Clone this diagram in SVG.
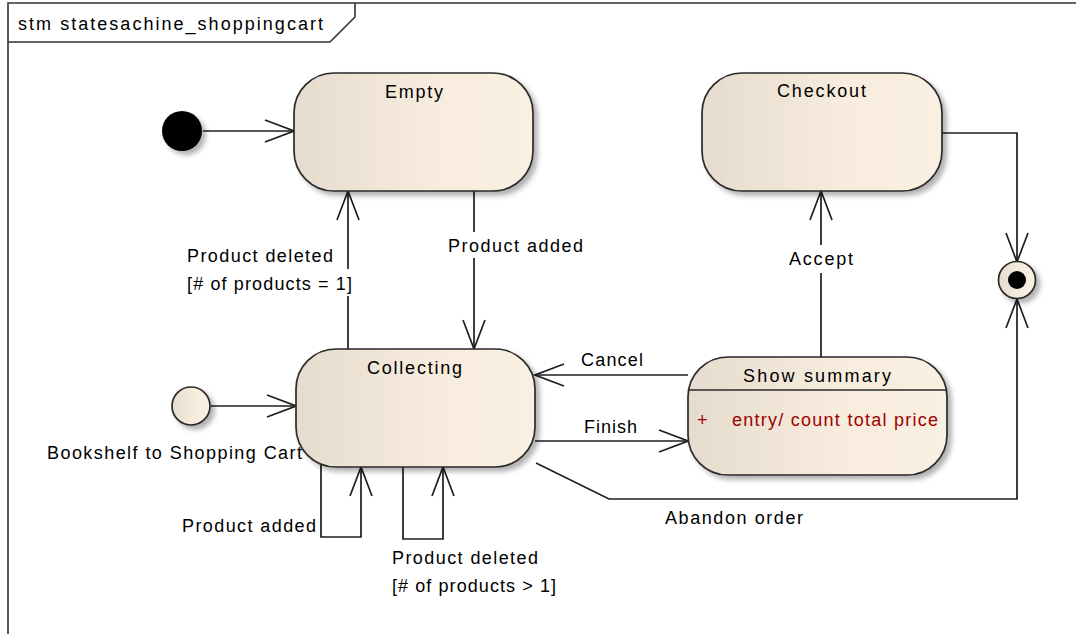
<svg xmlns="http://www.w3.org/2000/svg" width="1076" height="634" viewBox="0 0 1076 634">
<style>
.t{font-family:"Liberation Sans",Arial,sans-serif;font-size:18px;fill:#000;}
.red{fill:#a00000;}
.node{fill:url(#g);stroke:#2a2a2a;stroke-width:1.7;filter:url(#sh);}
.edge{fill:none;stroke:#1e1e1e;stroke-width:1.7;}
.frame{fill:none;stroke:#333;stroke-width:1.6;}
</style>
<defs>
<linearGradient id="g" x1="0" y1="0" x2="1" y2="0">
<stop offset="0" stop-color="#e6dccd"/>
<stop offset="0.6" stop-color="#f7ecdd"/>
<stop offset="1" stop-color="#faf0e2"/>
</linearGradient>
<filter id="sh" x="-20%" y="-20%" width="150%" height="150%">
<feDropShadow dx="4" dy="4" stdDeviation="2.5" flood-color="#000" flood-opacity="0.3"/>
</filter>
<marker id="a" markerUnits="userSpaceOnUse" viewBox="-31 -13 33 26" markerWidth="33" markerHeight="26" refX="0" refY="0" orient="auto">
<path d="M-29,-11 L0,0 L-29,11" fill="none" stroke="#1e1e1e" stroke-width="1.7"/>
</marker>
</defs>
<rect width="1076" height="634" fill="#fff"/>
<g id="frame">
<path class="frame" d="M8,634 L8,3 L1076,3"/>
<path class="frame" d="M8,42 L330,42 L355,17 L355,3"/>
<text class="t" x="18" y="30" textLength="305">stm statesachine_shoppingcart</text>
</g>
<g id="connectors">
<path class="edge" d="M203,131 L294,131" marker-end="url(#a)"/>
<path class="edge" d="M211,406 L296,406" marker-end="url(#a)"/>
<path class="edge" d="M474,191 L474,232 M474,258 L474,349" marker-end="url(#a)"/>
<path class="edge" d="M348,349 L348,296 M348,269 L348,191" marker-end="url(#a)"/>
<path class="edge" d="M821,357 L821,273 M821,245 L821,191" marker-end="url(#a)"/>
<path class="edge" d="M942,133 L1017,133 L1017,262" marker-end="url(#a)"/>
<path class="edge" d="M536,463 L609,499 L1017,499 L1017,299" marker-end="url(#a)"/>
<path class="edge" d="M688,375 L535,375" marker-end="url(#a)"/>
<path class="edge" d="M535,441 L688,441" marker-end="url(#a)"/>
<path class="edge" d="M321,463 L321,537 L361,537 L361,467" marker-end="url(#a)"/>
<path class="edge" d="M403,467 L403,539 L443,539 L443,467" marker-end="url(#a)"/>
<text class="t" x="448" y="252" textLength="135">Product added</text>
<text class="t" x="187" y="262" textLength="146">Product deleted</text>
<text class="t" x="187" y="290" textLength="165">[# of products = 1]</text>
<text class="t" x="789" y="265" textLength="64">Accept</text>
<text class="t" x="581" y="366" textLength="62">Cancel</text>
<text class="t" x="584" y="433" textLength="53">Finish</text>
<text class="t" x="665" y="524" textLength="138">Abandon order</text>
<text class="t" x="182" y="532" textLength="134">Product added</text>
<text class="t" x="392" y="564" textLength="146">Product deleted</text>
<text class="t" x="392" y="592" textLength="164">[# of products &gt; 1]</text>
</g>
<g id="initial">
<circle cx="182" cy="131" r="20" fill="#000" filter="url(#sh)"/>
</g>
<g id="entry">
<circle class="node" cx="191" cy="406" r="19"/>
<text class="t" x="47" y="459" textLength="255">Bookshelf to Shopping Cart</text>
</g>
<g id="final">
<circle class="node" cx="1017" cy="280" r="18.5"/>
<circle cx="1017" cy="280" r="9" fill="#000"/>
</g>
<g id="empty">
<rect class="node" x="294" y="73" width="239" height="118" rx="40" ry="40"/>
<text class="t" x="385" y="98" textLength="58">Empty</text>
</g>
<g id="checkout">
<rect class="node" x="702" y="73" width="240" height="118" rx="40" ry="40"/>
<text class="t" x="777" y="97" textLength="89">Checkout</text>
</g>
<g id="collecting">
<rect class="node" x="296" y="349" width="239" height="118" rx="40" ry="40"/>
<text class="t" x="367" y="374" textLength="95">Collecting</text>
</g>
<g id="showsummary">
<rect class="node" x="688" y="357" width="259" height="118" rx="40" ry="40"/>
<line x1="688" y1="390" x2="947" y2="390" stroke="#2a2a2a" stroke-width="1.7"/>
<text class="t" x="743" y="382" textLength="148">Show summary</text>
<text class="t red" x="697" y="426">+</text>
<text class="t red" x="732" y="426" textLength="206">entry/ count total price</text>
</g>
</svg>
